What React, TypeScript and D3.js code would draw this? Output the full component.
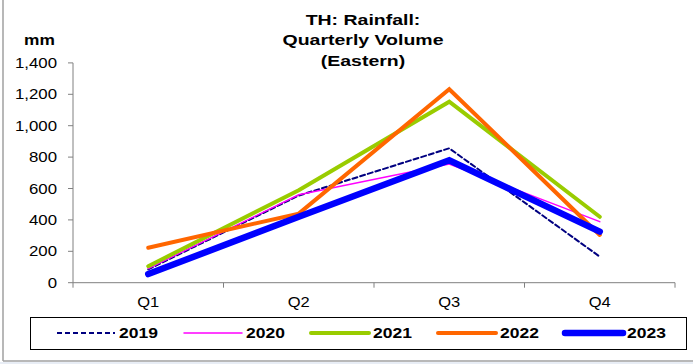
import React from "react";
import * as d3 from "d3";

const categories = ["Q1", "Q2", "Q3", "Q4"];
const years = ["2019", "2020", "2021", "2022", "2023"];
const v2019 = [85, 555, 856, 166];
const v2020 = [90, 560, 756, 389];
const v2021 = [105, 589, 1153, 420];
const v2022 = [223, 440, 1232, 304];
const v2023 = [55, 420, 780, 325];
const yTicks = [0, 200, 400, 600, 800, 1000, 1200, 1400];
const titleLines = ["TH: Rainfall:", "Quarterly Volume", "(Eastern)"];
const yUnit = "mm";

const seriesValues = [v2019, v2020, v2021, v2022, v2023];
const styles = [
  { color: "#000080", width: 2, dash: "5,3" },
  { color: "#FF00FF", width: 1.5, dash: undefined },
  { color: "#99CC00", width: 4, dash: undefined },
  { color: "#FF6600", width: 4, dash: undefined },
  { color: "#0000FF", width: 6.5, dash: undefined },
];

const FONT = "'Liberation Sans', Arial, sans-serif";

function SText({ x, y, sx, anchor, size, weight, children }: any) {
  return (
    <g transform={`translate(${x},${y}) scale(${sx},1)`}>
      <text
        x={0}
        y={0}
        textAnchor={anchor}
        fontFamily={FONT}
        fontSize={size}
        fontWeight={weight}
        fill="#000"
      >
        {children}
      </text>
    </g>
  );
}

export default function App() {
  const W = 693;
  const H = 364;
  const left = 73;
  const right = 675;
  const top = 62.9;
  const bottom = 282.7;

  const x = d3.scaleBand().domain(categories).range([left, right]);
  const y = d3.scaleLinear().domain([0, 1400]).range([bottom, top]);
  const line = d3
    .line<number>()
    .x((_, i) => (x(categories[i]) as number) + x.bandwidth() / 2)
    .y((d) => y(d));

  const fmt = d3.format(",");
  const boundaries = [...categories.map((c) => x(c) as number), right];

  const legX0 = 57;
  const legStep = 127;
  const legY = 333;

  return (
    <svg
      width={W}
      height={H}
      style={{ position: "absolute", left: 0, top: 0 }}
    >
      <rect x={0} y={0} width={W} height={H} fill="#fff" />
      <rect x={0} y={362} width={W} height={2} fill="#e8edf5" />
      <line x1={3} y1={0} x2={3} y2={361} stroke="#a0a0a0" strokeWidth={1.5} />
      <line x1={3} y1={361} x2={W} y2={361} stroke="#a0a0a0" strokeWidth={1.5} />

      {titleLines.map((t, i) => (
        <SText key={t} x={363} y={24.5 + i * 20.5} sx={1.3} anchor="middle" size={15} weight="bold">
          {t}
        </SText>
      ))}

      <SText x={39.5} y={45} sx={1.24} anchor="middle" size={14} weight="bold">
        {yUnit}
      </SText>

      {/* y axis */}
      <line x1={left} y1={top} x2={left} y2={bottom} stroke="#808080" strokeWidth={1} />
      {yTicks.map((t) => (
        <g key={t}>
          <line x1={left - 5} y1={y(t)} x2={left} y2={y(t)} stroke="#808080" strokeWidth={1} />
          <SText x={57} y={y(t) + 5} sx={1.2} anchor="end" size={14} weight="normal">
            {fmt(t)}
          </SText>
        </g>
      ))}

      {/* x axis */}
      <line x1={left} y1={bottom} x2={right} y2={bottom} stroke="#808080" strokeWidth={1} />
      {boundaries.map((b, i) => (
        <line key={i} x1={b} y1={bottom} x2={b} y2={bottom + 5} stroke="#808080" strokeWidth={1} />
      ))}
      {categories.map((c) => (
        <SText key={c} x={(x(c) as number) + x.bandwidth() / 2} y={306.5} sx={1.18} anchor="middle" size={14} weight="normal">
          {c}
        </SText>
      ))}

      {/* series */}
      {seriesValues.map((vals, i) => (
        <path
          key={years[i]}
          d={line(vals) as string}
          fill="none"
          stroke={styles[i].color}
          strokeWidth={styles[i].width}
          strokeDasharray={styles[i].dash}
          strokeLinecap="round"
          strokeLinejoin="miter"
        />
      ))}

      {/* legend */}
      <rect x={30.5} y={317.5} width={656} height={32} fill="#fff" stroke="#000" strokeWidth={1} />
      {years.map((yr, i) => {
        const lx = legX0 + i * legStep;
        return (
          <g key={yr}>
            <line
              x1={lx}
              y1={legY}
              x2={lx + 58}
              y2={legY}
              stroke={styles[i].color}
              strokeWidth={styles[i].width}
              strokeDasharray={styles[i].dash}
              strokeLinecap={styles[i].dash ? "butt" : "round"}
            />
            <SText x={lx + 62} y={legY + 5} sx={1.25} anchor="start" size={14} weight="bold">
              {yr}
            </SText>
          </g>
        );
      })}
    </svg>
  );
}
